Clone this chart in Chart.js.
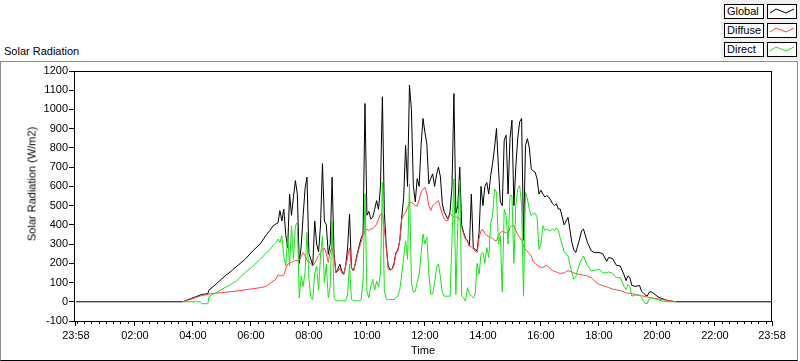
<!DOCTYPE html>
<html>
<head>
<meta charset="utf-8">
<title>Solar Radiation</title>
<script src="https://cdn.jsdelivr.net/npm/chart.js@4.4.1/dist/chart.umd.min.js"></script>
<style>
  html, body { margin: 0; padding: 0; background: #fff; }
  body { width: 800px; height: 361px; position: relative; overflow: hidden;
         font-family: "Liberation Sans", Arial, sans-serif; font-size: 11px; color: #000; }
  #frame { position: absolute; left: 0; top: 61px; width: 798px; height: 300px; box-sizing: border-box;
           border: 1px solid #8c8c8c; border-bottom-color: #000; }
  #chart { position: absolute; left: 0; top: 0; }
  #title { position: absolute; left: 4px; top: 45px; line-height: 13px; }
  #yTitle { position: absolute; left: 32px; top: 184px; white-space: nowrap; line-height: 13px;
            transform: translate(-50%, -50%) rotate(-90deg); }
  #legend { position: absolute; left: 721px; top: 0; width: 79px; height: 60px; background: #f0f0f0; }
  .lg-name { position: absolute; left: 3px; width: 40px; height: 15px; box-sizing: border-box;
             border: 1px solid #000; background: #fff; padding-left: 2px; line-height: 13px; }
  .lg-line { position: absolute; left: 46px; width: 30px; height: 15px; box-sizing: border-box;
             border: 1px solid #000; background: #fff; }
  .lg-line svg { display: block; }
</style>
</head>
<body>
<div id="frame"></div>
<div id="title">Solar Radiation</div>
<div id="legend"></div>
<canvas id="chart" width="800" height="361"></canvas>
<div id="yTitle">Solar Radiation (W/m2)</div>
<script>
// axis runs from 23:58 the evening before to 23:58, in minutes after midnight
const AXIS_START = -2;
const AXIS_END = 1438;
const xTickValues = [-2, 120, 240, 360, 480, 600, 720, 840, 960, 1080, 1200, 1320, 1438];
const xTickLabels = ['23:58', '02:00', '04:00', '06:00', '08:00', '10:00', '12:00',
  '14:00', '16:00', '18:00', '20:00', '22:00', '23:58'];

// daylight samples (W/m2)
const timeLabels = [
  '03:39', '03:54', '04:06', '04:15', '04:19', '04:31', '04:33', '04:46', '05:00', '05:17',
  '05:31', '05:48', '06:04', '06:19', '06:31', '06:39', '06:46', '06:52', '06:56', '07:00',
  '07:04', '07:08', '07:12', '07:16', '07:20', '07:24', '07:28', '07:32', '07:36', '07:40',
  '07:44', '07:48', '07:52', '07:56', '08:00', '08:04', '08:08', '08:12', '08:16', '08:20',
  '08:24', '08:28', '08:32', '08:36', '08:40', '08:44', '08:48', '08:52', '08:56', '09:00',
  '09:04', '09:08', '09:12', '09:16', '09:20', '09:24', '09:28', '09:32', '09:36', '09:40',
  '09:44', '09:48', '09:52', '09:56', '10:00', '10:04', '10:08', '10:12', '10:16', '10:20',
  '10:24', '10:28', '10:32', '10:36', '10:40', '10:44', '10:48', '10:52', '10:56', '11:00',
  '11:04', '11:08', '11:12', '11:16', '11:20', '11:24', '11:28', '11:32', '11:36', '11:40',
  '11:44', '11:48', '11:52', '11:56', '12:00', '12:04', '12:08', '12:12', '12:16', '12:20',
  '12:24', '12:28', '12:32', '12:36', '12:40', '12:44', '12:48', '12:52', '12:56', '13:00',
  '13:04', '13:08', '13:12', '13:16', '13:20', '13:24', '13:28', '13:32', '13:36', '13:40',
  '13:44', '13:48', '13:52', '13:56', '14:00', '14:04', '14:08', '14:12', '14:16', '14:20',
  '14:24', '14:28', '14:32', '14:36', '14:40', '14:44', '14:48', '14:52', '14:56', '15:00',
  '15:04', '15:08', '15:12', '15:16', '15:20', '15:24', '15:28', '15:32', '15:36', '15:40',
  '15:44', '15:48', '15:52', '15:56', '16:00', '16:04', '16:08', '16:12', '16:16', '16:20',
  '16:24', '16:28', '16:32', '16:36', '16:40', '16:48', '16:56', '17:04', '17:08', '17:12',
  '17:20', '17:24', '17:28', '17:36', '17:44', '17:52', '18:00', '18:08', '18:16', '18:20',
  '18:28', '18:36', '18:44', '18:52', '18:56', '19:00', '19:04', '19:08', '19:16', '19:24',
  '19:28', '19:32', '19:36', '19:40', '19:44', '19:48', '19:56', '20:04', '20:12', '20:20',
  '20:28', '20:36', '20:40'
];
const globalWm2 = [
  0, 15, 26, 35, 38, 42, 60, 88, 120, 155,
  185, 221, 265, 300, 345, 370, 395, 405, 410, 474,
  420, 482, 350, 280, 560, 450, 545, 630, 560, 200,
  290, 447, 587, 648, 250, 221, 190, 420, 300, 260,
  400, 718, 420, 400, 247, 300, 648, 250, 150, 170,
  195, 160, 143, 186, 280, 456, 178, 160, 200, 250,
  290, 330, 352, 1031, 450, 470, 430, 440, 480, 526,
  480, 596, 1066, 465, 290, 186, 165, 170, 200, 255,
  270, 320, 440, 543, 813, 600, 1127, 1000, 604, 520,
  640, 600, 813, 953, 880, 820, 613, 640, 665, 600,
  660, 700, 650, 509, 465, 447, 430, 470, 600, 1083,
  460, 500, 700, 400, 360, 330, 317, 290, 560, 282,
  270, 265, 360, 600, 500, 600, 620, 560, 656, 720,
  800, 901, 700, 520, 500, 840, 866, 560, 850, 944,
  500, 700, 850, 936, 953, 320, 813, 848, 800, 690,
  680, 674, 639, 560, 580, 560, 545, 552, 545, 530,
  510, 500, 510, 482, 482, 400, 439, 308, 270, 256,
  326, 369, 378, 310, 265, 255, 256, 250, 210, 230,
  225, 190, 186, 140, 110, 135, 125, 85, 80, 85,
  55, 45, 35, 30, 50, 52, 38, 22, 16, 8,
  4, 1, 0
];
const diffuseWm2 = [
  0, 12, 22, 30, 33, 38, 40, 44, 48, 52,
  56, 62, 68, 73, 80, 95, 108, 118, 140, 135,
  135, 140, 170, 195, 200, 205, 210, 215, 215, 215,
  235, 256, 240, 215, 205, 200, 186, 200, 221, 240,
  256, 270, 280, 250, 204, 264, 282, 230, 150, 160,
  175, 150, 143, 186, 230, 280, 178, 160, 195, 240,
  280, 310, 350, 370, 378, 370, 378, 380, 390, 404,
  430, 456, 456, 380, 282, 170, 165, 168, 190, 250,
  265, 320, 430, 450, 465, 490, 515, 517, 510, 500,
  500, 530, 570, 585, 596, 560, 500, 474, 500, 510,
  517, 526, 490, 456, 430, 421, 425, 460, 450, 440,
  440, 439, 430, 387, 350, 325, 317, 290, 285, 275,
  265, 255, 330, 370, 375, 355, 345, 340, 335, 330,
  320, 317, 340, 360, 365, 362, 360, 350, 387, 395,
  395, 370, 350, 335, 320, 290, 270, 262, 250, 238,
  210, 200, 190, 183, 180, 178, 185, 190, 180, 170,
  162, 158, 155, 150, 148, 150, 162, 155, 150, 146,
  142, 140, 138, 134, 125, 105, 90, 84, 78, 74,
  66, 62, 58, 50, 47, 45, 44, 42, 38, 33,
  31, 29, 27, 25, 22, 20, 17, 14, 12, 8,
  4, 1, 0
];
const directWm2 = [
  0, 0, 0, 0, -10, -10, 25, 45, 65, 88,
  110, 152, 185, 220, 252, 270, 292, 308, 326, 308,
  343, 238, 186, 343, 186, 395, 221, 395, 413, 20,
  134, 80, 150, 360, 120, 21, 12, 150, 186, 60,
  238, 343, 100, 195, 21, 80, 421, 20, 5, 5,
  5, 5, 5, 5, 40, 195, 12, 8, 5, 5,
  5, 10, 108, 561, 55, 20, 80, 117, 60, 108,
  80, 143, 622, 60, 12, 12, 12, 12, 12, 20,
  29, 64, 143, 230, 317, 221, 613, 100, 50, 55,
  100, 143, 247, 352, 300, 335, 150, 40, 40, 100,
  178, 195, 130, 47, 29, 29, 29, 29, 326, 639,
  38, 404, 630, 29, 21, 3, 73, 40, 30, 20,
  40, 200, 143, 247, 256, 200, 282, 230, 410, 450,
  587, 570, 300, 343, 50, 480, 450, 300, 552, 552,
  200, 500, 587, 604, 500, 29, 570, 535, 480, 447,
  460, 460, 440, 273, 300, 395, 370, 378, 370, 369,
  378, 370, 385, 370, 330, 260, 238, 150, 117, 130,
  200, 221, 238, 190, 160, 165, 170, 152, 150, 155,
  148, 125, 125, 80, 64, 90, 80, 29, 35, 35,
  25, 3, -9, -9, 15, 21, 15, 8, 4, 1,
  0, 0, 0
];

const seriesInfo = [
  { name: 'Global', color: '#000000' },
  { name: 'Diffuse', color: '#ff4040' },
  { name: 'Direct', color: '#14e614' }
];

function toMinutes(label) {
  const [h, m] = label.split(':').map(Number);
  return h * 60 + m;
}
function toPoints(values) {
  return values.map((v, i) => ({ x: toMinutes(timeLabels[i]), y: v }));
}

function buildLegend() {
  const legend = document.getElementById('legend');
  seriesInfo.forEach((s, i) => {
    const top = 4 + i * 19;
    const name = document.createElement('div');
    name.className = 'lg-name';
    name.style.top = top + 'px';
    name.textContent = s.name;
    const line = document.createElement('div');
    line.className = 'lg-line';
    line.style.top = top + 'px';
    line.innerHTML = `<svg width="28" height="13"><polyline points="2,8 8,4 18,8 26,4" fill="none" stroke="${s.color}" stroke-width="1"/></svg>`;
    legend.appendChild(name);
    legend.appendChild(line);
  });
}

// plot box and the short 15 minute ticks under the time axis
const plotFrame = {
  id: 'plotFrame',
  afterDraw(chart) {
    const { ctx, chartArea } = chart;
    const xScale = chart.scales.x;
    ctx.save();
    ctx.strokeStyle = '#000';
    ctx.lineWidth = 1;
    ctx.strokeRect(chartArea.left + 0.5, chartArea.top + 0.5,
      chartArea.right - chartArea.left - 1, chartArea.bottom - chartArea.top);
    ctx.beginPath();
    for (let m = 0; m < 1440; m += 15) {
      if (m !== 0 && m % 120 === 0) continue;
      const px = Math.round(xScale.getPixelForValue(m)) + 0.5;
      ctx.moveTo(px, chartArea.bottom);
      ctx.lineTo(px, chartArea.bottom + 3);
    }
    ctx.stroke();
    ctx.restore();
  }
};

function setupChart() {
  Chart.defaults.font.family = '"Liberation Sans", Arial, sans-serif';
  Chart.defaults.font.size = 11;
  Chart.defaults.color = '#000';

  const dayPoints = [toPoints(globalWm2), toPoints(diffuseWm2), toPoints(directWm2)];
  dayPoints[0] = [{ x: AXIS_START, y: 0 }, ...dayPoints[0], { x: AXIS_END, y: 0 }];

  const datasets = seriesInfo.map((s, i) => ({
    label: s.name,
    data: dayPoints[i],
    borderColor: s.color,
    backgroundColor: s.color,
    borderWidth: 1,
    pointRadius: 0,
    tension: 0,
    fill: false,
    order: 3 - i
  }));

  new Chart(document.getElementById('chart').getContext('2d'), {
    type: 'line',
    data: { datasets },
    options: {
      responsive: false,
      animation: false,
      events: [],
      parsing: false,
      layout: { padding: { left: 0, top: 71, right: 28, bottom: 0 } },
      plugins: { legend: { display: false }, tooltip: { enabled: false } },
      scales: {
        x: {
          type: 'linear',
          min: -6,
          max: AXIS_END,
          afterBuildTicks: scale => {
            scale.ticks = xTickValues.map(v => ({ value: v }));
          },
          afterFit: scale => { scale.height = 40; },
          ticks: {
            autoSkip: false,
            maxRotation: 0,
            padding: 3,
            callback: value => xTickLabels[xTickValues.indexOf(value)]
          },
          grid: { drawOnChartArea: false, drawTicks: true, tickLength: 5, tickColor: '#000' },
          border: { display: false },
          title: { display: true, text: 'Time', padding: { top: 0, bottom: 3 } }
        },
        y: {
          type: 'linear',
          min: -100,
          max: 1200,
          afterFit: scale => { scale.width = 74; },
          ticks: { stepSize: 100, padding: 1, callback: value => String(value) },
          grid: { drawOnChartArea: false, drawTicks: true, tickLength: 5, tickColor: '#000' },
          border: { display: false }
        }
      }
    },
    plugins: [plotFrame]
  });
}

buildLegend();
setupChart();
</script>
</body>
</html>
